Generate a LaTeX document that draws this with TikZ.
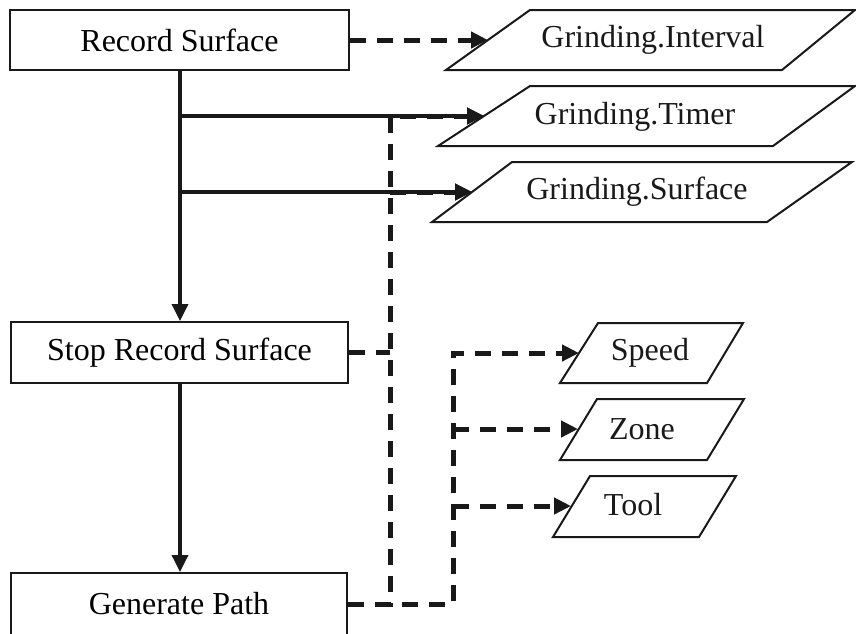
\documentclass[tikz,border=0pt]{standalone}
\usepackage{fontspec}
\setmainfont{Liberation Serif}
\usetikzlibrary{arrows.meta}
\begin{document}
\begin{tikzpicture}[x=1pt,y=-1pt,
  box/.style={draw=black!90, line width=2pt, rectangle, inner sep=0pt},
  para/.style={draw=black!90, line width=2pt},
  lbl/.style={inner sep=0pt, font=\fontsize{32}{38}\selectfont, text=black!90},
  solid arrow/.style={draw=black!90, line width=3.5pt, -{Triangle[length=17pt,width=16pt]}},
  dash arrow/.style={draw=black!90, line width=5pt, dash pattern=on 16pt off 11pt, -{Triangle[length=17pt,width=16pt]}},
  dash line/.style={draw=black!90, line width=5pt, dash pattern=on 16pt off 11pt}]
\useasboundingbox (0,0) rectangle (856,633);
% process boxes
\node[box, minimum width=339pt, minimum height=60pt, font=\fontsize{32}{38}\selectfont] (rs) at (179.5,40) {Record Surface};
\node[box, minimum width=337pt, minimum height=61pt, font=\fontsize{32}{38}\selectfont] (srs) at (179.5,352.5) {Stop Record Surface};
\node[box, minimum width=336pt, minimum height=62pt, font=\fontsize{32}{38}\selectfont] (gp) at (179,604) {Generate Path};
% data parallelograms
\draw[para] (530,10) -- (855,10) -- (782,70) -- (446,70) -- cycle;
\node[lbl] (gi) at (653,40) {Grinding.Interval};
\coordinate (giin) at (488,40);
\draw[para] (530,86) -- (855,86) -- (773,146) -- (438,146) -- cycle;
\node[lbl] (gt) at (635,117) {Grinding.Timer};
\coordinate (gtin) at (484,116);
\draw[para] (512,162) -- (852,162) -- (767,222) -- (432,222) -- cycle;
\node[lbl] (gs) at (637,192) {Grinding.Surface};
\coordinate (gsin) at (472,192);
\draw[para] (598,323) -- (743,323) -- (707,383) -- (560,383) -- cycle;
\node[lbl] (sp) at (650,353) {Speed};
\coordinate (spin) at (579,353);
\draw[para] (597,399) -- (744,399) -- (707,460) -- (560,460) -- cycle;
\node[lbl] (zn) at (642,429) {Zone};
\coordinate (znin) at (578,429);
\draw[para] (590,476) -- (736,476) -- (699,537) -- (553,537) -- cycle;
\node[lbl] (tl) at (633,505) {Tool};
\coordinate (tlin) at (571,506);
% junction coordinates
\coordinate (j1) at (180,116);
\coordinate (j2) at (180,192);
\coordinate (a1) at (390,116);
\coordinate (a2) at (390,192);
\coordinate (a3) at (390,352.5);
\coordinate (a4) at (390,604);
\coordinate (b1) at (453,353);
\coordinate (b2) at (453,429);
\coordinate (b3) at (453,506);
\coordinate (b4) at (453,604);
% solid flow
\draw[solid arrow] (rs.south -| j1) -- (srs.north -| j1);
\draw[solid arrow] (srs.south -| j1) -- (gp.north -| j1);
\draw[solid arrow] (j1) -- (gtin);
\draw[solid arrow] (j2) -- (gsin);
% dashed flows
\draw[dash arrow] (rs.east) -- (giin);
\draw[dash line] (srs.east) -- (a3);
\draw[dash arrow] (gp.east |- a4) -- (a4) -- (a1) -- (gtin);
\draw[dash arrow] (a2) -- (gsin);
\draw[dash arrow] (gp.east |- b4) -- (b4) -- (b1) -- (spin);
\draw[dash arrow] (b2) -- (znin);
\draw[dash arrow] (b3) -- (tlin);
\end{tikzpicture}
\end{document}
